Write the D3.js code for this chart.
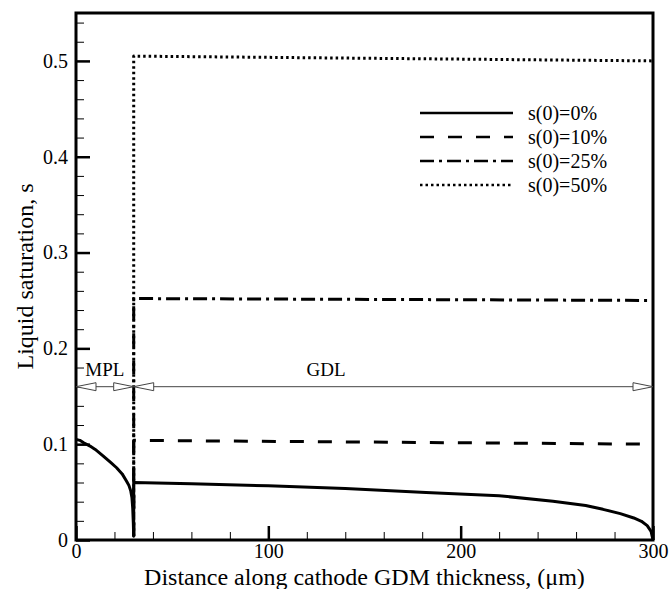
<!DOCTYPE html>
<html>
<head>
<meta charset="utf-8">
<script src="https://cdn.jsdelivr.net/npm/d3@7"></script>
<style>
  body { margin: 0; background: #fff; }
</style>
</head>
<body>
<div id="chart"></div>
<script>
// values (x in um, s as fraction)
var seriesNames = ["s(0)=0%", "s(0)=10%", "s(0)=25%", "s(0)=50%"];
var s0X = [0, 2, 4, 7.3, 10, 14.2, 18, 21.1, 24, 26.3, 27.5, 28.5, 29.1, 29.5, 29.8, 30, 30, 60, 100, 140, 182, 220, 248, 265, 274, 283, 290, 294, 297, 299, 300];
var s0Y = [0.105, 0.104, 0.1015, 0.098, 0.0945, 0.0876, 0.081, 0.0754, 0.069, 0.0614, 0.057, 0.051, 0.044, 0.033, 0.018, 0.004, 0.060, 0.0588, 0.0565, 0.0538, 0.0495, 0.0462, 0.0405, 0.036, 0.032, 0.0275, 0.023, 0.0195, 0.015, 0.009, 0.0];
var s10X = [30, 30, 300];
var s10Y = [0.004, 0.104, 0.100];
var s25X = [30, 30, 300];
var s25Y = [0.004, 0.252, 0.250];
var s50X = [30, 30, 300];
var s50Y = [0.004, 0.505, 0.500];
var xTicks = [0, 100, 200, 300];
var yTicks = [0, 0.1, 0.2, 0.3, 0.4, 0.5];
var layerNames = ["MPL", "GDL"];
var layerStart = [0, 30];
var layerEnd = [30, 300];
var layerLabelX = [15, 130];
var layerArrowS = 0.16;

var width = 669, height = 589;
var margin = { top: 13, right: 16, bottom: 49, left: 76 };
var serif = "'Liberation Serif'";

var svg = d3.select("#chart").append("svg")
    .attr("width", width)
    .attr("height", height);

var x = d3.scaleLinear().domain([0, 300]).range([margin.left, width - margin.right]);
var y = d3.scaleLinear().domain([0, 0.55]).range([height - margin.bottom, margin.top]);

// minor ticks
svg.append("g")
    .attr("transform", "translate(0," + (height - margin.bottom) + ")")
    .call(d3.axisBottom(x).tickValues(d3.range(0, 301, 20)).tickSize(-8).tickFormat(""))
    .call(function(g) { g.select(".domain").remove(); g.selectAll("line").attr("stroke-width", 1); });
svg.append("g")
    .attr("transform", "translate(" + margin.left + ",0)")
    .call(d3.axisLeft(y).tickValues(d3.range(0, 0.551, 0.02)).tickSize(-8).tickFormat(""))
    .call(function(g) { g.select(".domain").remove(); g.selectAll("line").attr("stroke-width", 1); });

// major ticks + labels
svg.append("g")
    .attr("transform", "translate(0," + (height - margin.bottom) + ")")
    .call(d3.axisBottom(x).tickValues(xTicks).tickSizeInner(-14).tickSizeOuter(0).tickPadding(4).tickFormat(d3.format("d")))
    .call(function(g) {
        g.select(".domain").remove();
        g.selectAll("line").attr("stroke-width", 2.5);
        g.selectAll("text").style("font-family", serif).style("font-size", "20px").attr("fill", "#000");
    });
svg.append("g")
    .attr("transform", "translate(" + margin.left + ",0)")
    .call(d3.axisLeft(y).tickValues(yTicks).tickSizeInner(-14).tickSizeOuter(0).tickPadding(8)
        .tickFormat(function(d) { return d === 0 ? "0" : d3.format(".1f")(d); }))
    .call(function(g) {
        g.select(".domain").remove();
        g.selectAll("line").attr("stroke-width", 2.5);
        g.selectAll("text").style("font-family", serif).style("font-size", "20px").attr("fill", "#000");
    });

// frame
svg.append("rect")
    .attr("x", x(0)).attr("y", y(0.55))
    .attr("width", x(300) - x(0)).attr("height", y(0) - y(0.55))
    .attr("fill", "none").attr("stroke", "#000").attr("stroke-width", 3);

// curves
var dashes = [null, "14,14", "14,5,3,5", "2.5,3"];
var seriesX = [s0X, s10X, s25X, s50X];
var seriesY = [s0Y, s10Y, s25Y, s50Y];
var line = d3.line().x(function(d) { return x(d[0]); }).y(function(d) { return y(d[1]); });

seriesNames.forEach(function(name, i) {
    var pts = d3.zip(seriesX[i], seriesY[i]);
    svg.append("path")
        .datum(pts)
        .attr("d", line)
        .attr("fill", "none")
        .attr("stroke", "#000")
        .attr("stroke-width", 3)
        .attr("stroke-linejoin", "round")
        .attr("stroke-dasharray", dashes[i]);
});

// layer arrows
function tri(tipX, yy, dir) {
    var len = 20, half = 4;
    return "M" + tipX + "," + yy + "L" + (tipX - dir * len) + "," + (yy - half) +
        "L" + (tipX - dir * len) + "," + (yy + half) + "Z";
}
layerNames.forEach(function(name, i) {
    var ay = y(layerArrowS);
    var x0 = x(layerStart[i]), x1 = x(layerEnd[i]);
    svg.append("line")
        .attr("x1", x0 + 20).attr("x2", x1 - 20)
        .attr("y1", ay).attr("y2", ay)
        .attr("stroke", "#444").attr("stroke-width", 1);
    svg.append("path").attr("d", tri(x0, ay, -1)).attr("fill", "#fff").attr("stroke", "#444").attr("stroke-width", 1);
    svg.append("path").attr("d", tri(x1, ay, 1)).attr("fill", "#fff").attr("stroke", "#444").attr("stroke-width", 1);
    svg.append("text")
        .attr("x", x(layerLabelX[i]))
        .attr("y", ay - 11)
        .attr("text-anchor", "middle")
        .style("font-family", serif)
        .style("font-size", "19px")
        .text(name);
});

// legend
var legend = svg.append("g").attr("transform", "translate(420,113)");
seriesNames.forEach(function(name, i) {
    var row = legend.append("g").attr("transform", "translate(0," + (i * 24) + ")");
    row.append("line")
        .attr("x1", 0).attr("x2", 93)
        .attr("y1", 0).attr("y2", 0)
        .attr("stroke", "#000").attr("stroke-width", 2.5)
        .attr("stroke-dasharray", dashes[i]);
    row.append("text")
        .attr("x", 108).attr("y", 7)
        .style("font-family", serif)
        .style("font-size", "20px")
        .text(name);
});

// axis titles
svg.append("text")
    .attr("x", (x(0) + x(300)) / 2)
    .attr("y", 585)
    .attr("text-anchor", "middle")
    .style("font-family", serif)
    .style("font-size", "24px")
    .text("Distance along cathode GDM thickness, (\u03bcm)");
svg.append("text")
    .attr("transform", "translate(33," + ((y(0) + y(0.55)) / 2) + ") rotate(-90)")
    .attr("text-anchor", "middle")
    .style("font-family", serif)
    .style("font-size", "24px")
    .text("Liquid saturation, s");
</script>
</body>
</html>
